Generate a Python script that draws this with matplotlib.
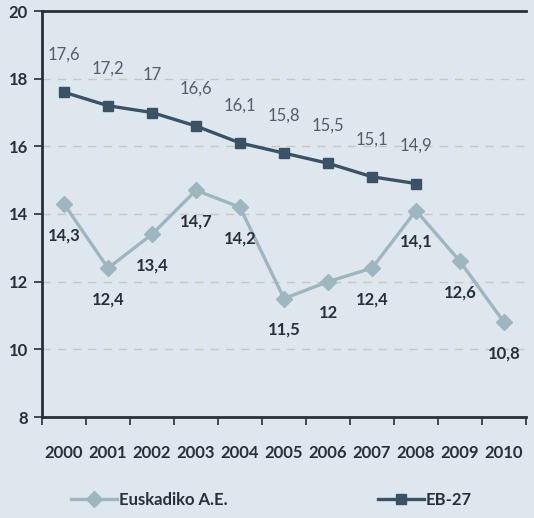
import matplotlib
matplotlib.use("Agg")
import matplotlib.pyplot as plt
from matplotlib.lines import Line2D

years = ["2000", "2001", "2002", "2003", "2004", "2005", "2006", "2007", "2008", "2009", "2010"]
euskadi = [14.3, 12.4, 13.4, 14.7, 14.2, 11.5, 12.0, 12.4, 14.1, 12.6, 10.8]
eb27 = [17.6, 17.2, 17.0, 16.6, 16.1, 15.8, 15.5, 15.1, 14.9]
yticks = [8, 10, 12, 14, 16, 18, 20]

BG = "#dfe7ee"
DARK = "#3a5266"
LIGHT = "#9db6c0"
TXT = "#262f3a"
GRAYTXT = "#545d66"

plt.rcParams['font.family'] = ['Lato', 'DejaVu Sans']

fig = plt.figure(figsize=(5.34, 5.18), dpi=100, facecolor=BG)
ax = fig.add_axes([42/534, 1-417/518, (526-42)/534, (417-11)/518], facecolor=BG)

def fmt(v):
    s = ("%.1f" % v).rstrip("0").rstrip(".")
    return s.replace(".", ",")

x_e = list(range(len(euskadi)))
x_b = list(range(len(eb27)))

for y in [10, 12, 14, 16, 18]:
    ax.axhline(y, color="#c9c6c0", lw=1, ls=(0, (6, 5)), zorder=1)

ax.plot(x_e, euskadi, color=LIGHT, lw=2.4, marker="D", ms=8, zorder=3, label="Euskadiko A.E.")
ax.plot(x_b, eb27, color=DARK, lw=2.4, marker="s", ms=7, zorder=4, label="EB-27")

for x, v in zip(x_b, eb27):
    ax.annotate(fmt(v), (x, v), xytext=(0, 27), textcoords="offset points",
                ha="center", va="center", fontsize=12, color=GRAYTXT, zorder=5)
for x, v in zip(x_e, euskadi):
    ax.annotate(fmt(v), (x, v), xytext=(0, -22.5), textcoords="offset points",
                ha="center", va="center", fontsize=12, color=TXT, fontweight="bold", zorder=5)

ax.set_xlim(-0.5, 10.5)
ax.set_ylim(8, 20)
ax.set_yticks(yticks)
ax.set_yticklabels([str(t) for t in yticks], fontsize=12, fontweight="bold", color=TXT)
ax.set_xticks(range(len(years)))
ax.set_xticklabels(years, fontsize=12, fontweight="bold", color=TXT)
ax.set_xticks([i - 0.5 for i in range(len(years) + 1)], minor=True)
ax.tick_params(axis="x", which="major", length=0, pad=20)
ax.tick_params(axis="x", which="minor", length=6, width=1.2, color=TXT, direction="out")
ax.tick_params(axis="y", length=6, width=1.2, color=TXT, pad=4, direction="out")

for side in ["left", "bottom", "top"]:
    ax.spines[side].set_color(TXT)
    ax.spines[side].set_linewidth(2)
ax.spines["right"].set_visible(False)

h1 = Line2D([], [], color=LIGHT, lw=2.4, marker="D", ms=8)
h2 = Line2D([], [], color=DARK, lw=2.4, marker="s", ms=7)
for h, lab, x0 in [(h1, "Euskadiko A.E.", 64/534), (h2, "EB-27", 371/534)]:
    leg = fig.legend([h], [lab], loc="center left", bbox_to_anchor=(x0, 1-500/518),
                     frameon=False, handlelength=2.8, handletextpad=0.1, borderaxespad=0,
                     prop={"size": 12, "weight": "bold"})
    for t in leg.get_texts():
        t.set_color(TXT)

fig.savefig("out.png", dpi=100, facecolor=BG)
